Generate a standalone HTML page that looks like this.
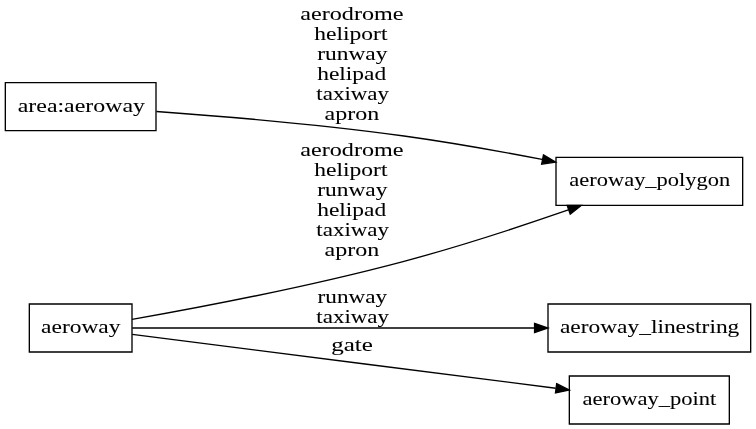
<!DOCTYPE html>
<html><head><meta charset="utf-8"><title>aeroway</title><style>
html,body{margin:0;padding:0;background:#fff;width:756px;height:429px;overflow:hidden;}
svg{display:block;will-change:transform;}
path,polygon.b{fill:none;stroke:#000;stroke-width:1.333px;}
polygon.a{fill:#000;stroke:#000;stroke-width:1.333px;}
text{stroke:#000;stroke-width:0.06px;font-family:"Liberation Serif", serif;font-size:19px;font-weight:normal;text-anchor:middle;fill:#000;}
</style></head><body>
<svg width="756" height="429" viewBox="0 0 756 429">
<rect x="0" y="0" width="756" height="429" fill="#fff"/>
<polygon class="b" points="156,82.67 5.33,82.67 5.33,130.67 156,130.67 156,82.67"/>
<text x="81.37" y="112" textLength="127.22" lengthAdjust="spacingAndGlyphs">area:aeroway</text>
<polygon class="b" points="742.67,157.33 556,157.33 556,205.33 742.67,205.33 742.67,157.33"/>
<text x="649.78" y="186" textLength="160.97" lengthAdjust="spacingAndGlyphs">aeroway_polygon</text>
<path d="M156.4,111.48 C221.81,116.17 319.48,124.32 404,136 449.44,142.28 499.29,151.17 542.03,159.43"/>
<polygon class="a" points="543.44,154.95 555.64,162.08 541.65,164.11 543.44,154.95"/>
<text x="351.9" y="20" textLength="103.2" lengthAdjust="spacingAndGlyphs">aerodrome</text>
<text x="350.9" y="40" textLength="73.14" lengthAdjust="spacingAndGlyphs">heliport</text>
<text x="352.3" y="60" textLength="70.26" lengthAdjust="spacingAndGlyphs">runway</text>
<text x="351.7" y="80" textLength="68.99" lengthAdjust="spacingAndGlyphs">helipad</text>
<text x="352.7" y="100" textLength="72.78" lengthAdjust="spacingAndGlyphs">taxiway</text>
<text x="351.9" y="120" textLength="54.6" lengthAdjust="spacingAndGlyphs">apron</text>
<polygon class="b" points="132,304 29.33,304 29.33,352 132,352 132,304"/>
<text x="80.82" y="333" textLength="79.43" lengthAdjust="spacingAndGlyphs">aeroway</text>
<path d="M132.05,319.44 C195.72,308.15 308.84,286.69 404,261.33 459.52,246.53 520.97,226.36 568.33,209.97"/>
<polygon class="a" points="567.16,205.44 581.29,205.45 570.24,214.25 567.16,205.44"/>
<text x="351.9" y="156" textLength="103.2" lengthAdjust="spacingAndGlyphs">aerodrome</text>
<text x="350.9" y="176" textLength="73.14" lengthAdjust="spacingAndGlyphs">heliport</text>
<text x="352.3" y="196" textLength="70.26" lengthAdjust="spacingAndGlyphs">runway</text>
<text x="351.7" y="216" textLength="68.99" lengthAdjust="spacingAndGlyphs">helipad</text>
<text x="352.7" y="236" textLength="72.78" lengthAdjust="spacingAndGlyphs">taxiway</text>
<text x="351.9" y="256" textLength="54.6" lengthAdjust="spacingAndGlyphs">apron</text>
<polygon class="b" points="750.67,304 548,304 548,352 750.67,352 750.67,304"/>
<text x="649.63" y="333" textLength="179.38" lengthAdjust="spacingAndGlyphs">aeroway_linestring</text>
<path d="M132.23,328 C221.93,328 411.76,328 534.41,328"/>
<polygon class="a" points="534.57,323.33 547.91,328 534.57,332.67 534.57,323.33"/>
<text x="352.4" y="303" textLength="69.56" lengthAdjust="spacingAndGlyphs">runway</text>
<text x="352.7" y="323" textLength="72.78" lengthAdjust="spacingAndGlyphs">taxiway</text>
<polygon class="b" points="729.33,376 569.33,376 569.33,424 729.33,424 729.33,376"/>
<text x="649.33" y="405" textLength="133.86" lengthAdjust="spacingAndGlyphs">aeroway_point</text>
<path d="M132.23,334.39 C227.32,346.48 434.89,372.89 555.72,388.27"/>
<polygon class="a" points="556.65,383.68 569.28,389.99 555.47,392.93 556.65,383.68"/>
<text x="352.1" y="351" textLength="41.63" lengthAdjust="spacingAndGlyphs">gate</text>
</svg>
</body></html>
